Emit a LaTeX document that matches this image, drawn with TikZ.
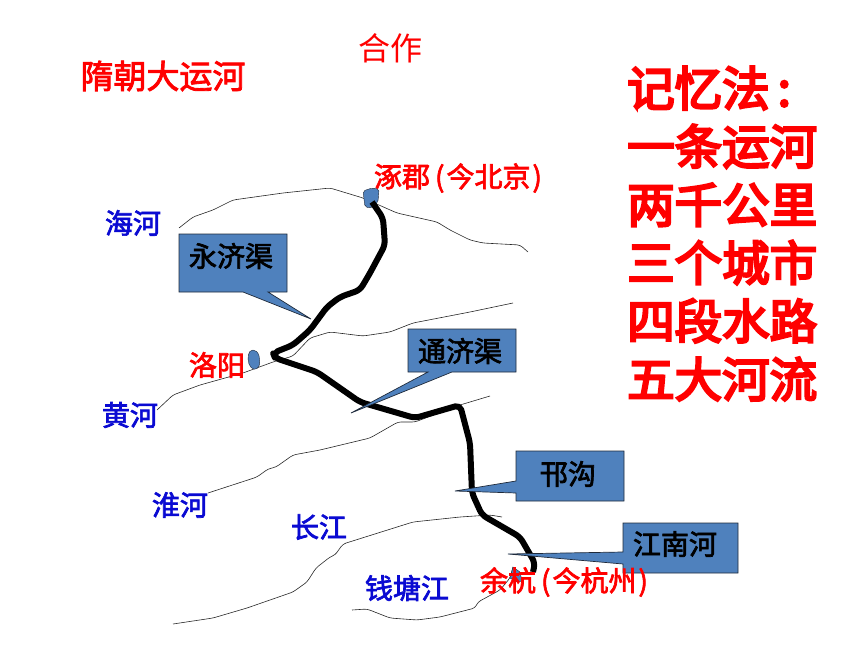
\documentclass[tikz,border=0pt]{standalone}
\usepackage{fontspec}
\setmainfont{Noto Sans CJK SC}
\newfontfamily\cjkmid[FakeBold=2.5]{Noto Sans CJK SC}
\newfontfamily\cjkmemo[FakeBold=5]{Noto Sans CJK SC}
\usetikzlibrary{positioning}
\definecolor{boxblue}{HTML}{4F81BD}
\definecolor{riverblue}{HTML}{0A0AD2}
\definecolor{boxline}{HTML}{1F2A3A}
\tikzstyle{river} = [draw=black!85,line width=0.6pt,rounded corners=3pt]
\tikzstyle{canal} = [draw=black,line width=6pt,line join=round,rounded corners=5pt]
\tikzstyle{callbox} = [fill=boxblue,draw=boxline,line width=0.7pt,line join=miter]
\tikzstyle{lake} = [fill=boxblue,draw=boxline,line width=0.4pt]
\tikzstyle{boxlabel} = [font=\fontsize{28}{28}\selectfont\cjkmid,text=black,inner sep=0pt]
\tikzstyle{riverlabel} = [font=\fontsize{28}{28}\selectfont\cjkmid,text=riverblue,inner sep=0pt]
\tikzstyle{citylabel} = [font=\fontsize{28}{28}\selectfont\cjkmid,text=red,inner sep=0pt]
\tikzstyle{memolabel} = [font=\fontsize{47.5}{58.2}\selectfont\cjkmemo,text=red,inner sep=0pt,align=left]
\begin{document}
\begin{tikzpicture}[x=1pt,y=-1pt]
  \useasboundingbox (0,0) rectangle (860,645);
  % rivers
  \draw[river] (179,228) -- (193,217) -- (213,210) -- (233,200) -- (283,193) -- (330,188) -- (363,198) -- (397,213) -- (437,222) -- (450,230) -- (470,240) -- (483,243) -- (520,245) -- (528,252);
  \draw[river] (157,410) -- (173,395) -- (200,385) -- (243,373) -- (273,362) -- (293,356) -- (310,338) -- (330,332) -- (363,336) -- (390,332) -- (413,323) -- (470,312) -- (513,303);
  \draw[river] (208,493) -- (257,477) -- (268,469) -- (276,467) -- (293,455) -- (320,450) -- (370,438) -- (398,422) -- (415,422) -- (460,405) -- (490,396);
  \draw[river] (173,624) -- (213,618) -- (247,608) -- (293,592) -- (307,582) -- (316,568) -- (330,557) -- (335,555) -- (343,544) -- (413,522) -- (460,517) -- (490,515) -- (502,517);
  \draw[river] (352,610) -- (367,609) -- (390,618) -- (417,620) -- (440,617) -- (475,608) -- (478,602) -- (500,590) -- (510,578) -- (513,567);
  % lakes
  \draw[lake,rounded corners=2pt] (363,191) -- (372,188) -- (379,189) -- (378,202) -- (372,208) -- (365,207) -- cycle;
  \draw[lake] (253,350) .. controls (259,350) and (261,360) .. (259,366) .. controls (257,371) and (251,370) .. (249,364) .. controls (247,358) and (248,350) .. (253,350) -- cycle;
  \draw[lake] (513,567) -- (520,572) -- (522,581) -- (517,582) -- (510,578) -- cycle;
  % canal
  \draw[canal] (372,202) -- (383,218) -- (385,245) -- (370,273) -- (360,290) -- (340,297) -- (327,307) -- (310,330) -- (293,345) -- (273,353) -- (275,358) -- (317,372) -- (360,402) -- (415,418) -- (460,405) -- (470,443) -- (472,493) -- (482,515) -- (520,537) -- (535,563) -- (533,572);
  % callouts
  \draw[callbox] (179,234) -- (287,234) -- (287,292) -- (268,292) -- (311,319) -- (243,292) -- (179,292) -- cycle;
  \draw[callbox] (408,329) -- (516,329) -- (516,372) -- (452,372) -- (351,413) -- (428,372) -- (408,372) -- cycle;
  \draw[callbox] (516,451) -- (624,451) -- (624,501) -- (516,501) -- (516,493) -- (455,491) -- (516,481) -- cycle;
  \draw[callbox] (623,523) -- (738,523) -- (738,573) -- (623,573) -- (623,564) -- (508,554) -- (623,552) -- cycle;
  \node[boxlabel] (yongji) at (231,256) {永济渠};
  \node[boxlabel] (tongji) at (460,351) {通济渠};
  \node[boxlabel] (hangou) at (568,474) {邗沟};
  \node[boxlabel] (jiangnan) at (675,544) {江南河};
  % texts
  \node[citylabel] (zhuojun) at (458,178) {涿郡\kern5pt(\kern2pt今北京\kern2pt)};
  \node[citylabel] (luoyang) at (217,365) {洛阳};
  \node[citylabel] (yuhang) at (564,582) {余杭\kern5pt(\kern2pt今杭州\kern2pt)};
  \node[riverlabel] (haihe) at (133,223) {海河};
  \node[riverlabel] (huanghe) at (130,415) {黄河};
  \node[riverlabel] (huaihe) at (180,505) {淮河};
  \node[riverlabel] (changjiang) at (319,527) {长江};
  \node[riverlabel] (qiantang) at (407,588) {钱塘江};
  \node[font=\fontsize{32}{32}\selectfont,text=red,inner sep=0pt] (hezuo) at (390,48) {合作};
  \node[font=\fontsize{33}{33}\selectfont\cjkmid,text=red,inner sep=0pt] (title) at (163,76) {隋朝大运河};
  \node[memolabel,anchor=north west] (memo) at (627,66) {记忆法\kern8pt:\\一条运河\\两千公里\\三个城市\\四段水路\\五大河流};
\end{tikzpicture}
\end{document}
